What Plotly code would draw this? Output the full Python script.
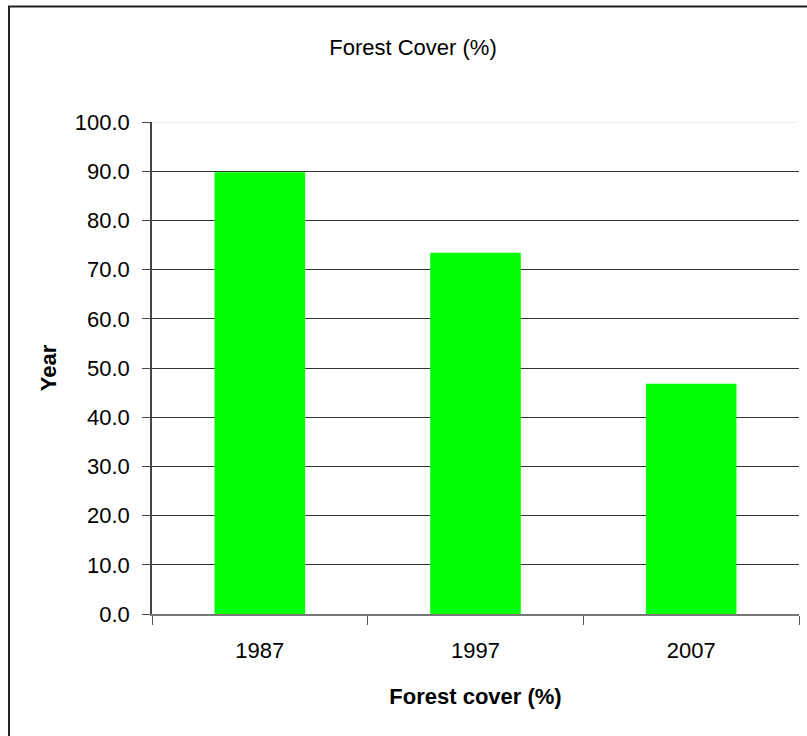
import plotly.graph_objects as go

years = ["1987", "1997", "2007"]
forest_cover = [89.8, 73.4, 46.8]
y_ticks = [0, 10, 20, 30, 40, 50, 60, 70, 80, 90, 100]
y_tick_labels = [f"{v:.1f}" for v in y_ticks]

FONT = "Liberation Sans, Arial, sans-serif"

fig = go.Figure()
fig.add_trace(go.Bar(
    x=years,
    y=forest_cover,
    marker=dict(color="#00ff00", line=dict(width=0)),
    width=0.42,
    showlegend=False,
))

fig.update_layout(
    width=807,
    height=736,
    margin=dict(l=152, r=8, t=122, b=122),
    paper_bgcolor="white",
    plot_bgcolor="white",
    font=dict(family=FONT, size=22, color="#000"),
    title=dict(
        text="Forest Cover (%)",
        x=413 / 807, xanchor="center", xref="container",
        y=1 - 47 / 736, yanchor="middle", yref="container",
        font=dict(size=22),
    ),
    xaxis=dict(
        type="category",
        showline=True, linecolor="#777", linewidth=1.5,
        ticks="outside", tickson="boundaries", ticklen=9, tickcolor="#555",
        ticklabelstandoff=16,
        showgrid=False,
        title=dict(text="<b>Forest cover (%)</b>", standoff=26, font=dict(size=22)),
    ),
    yaxis=dict(
        range=[0, 100],
        tickvals=y_ticks, ticktext=y_tick_labels,
        showline=True, linecolor="#444", linewidth=1.5,
        ticks="outside", ticklen=8, tickcolor="#444",
        ticklabelstandoff=8,
        showgrid=True, gridcolor="#333", gridwidth=1,
        zeroline=False,
        title=dict(text="<b>Year</b>", standoff=12, font=dict(size=22)),
    ),
    shapes=[
        # faint top gridline at 100
        dict(type="line", xref="paper", yref="y", x0=0.002, x1=0.998, y0=100, y1=100,
             line=dict(color="#e6e6e6", width=1.5), layer="above"),
        # outer chart border (right and bottom edges fall outside the image)
        dict(type="rect", xref="paper", yref="paper",
             x0=(9 - 152) / 647, x1=(820 - 152) / 647,
             y0=(614 - 750) / 492, y1=(614 - 6.5) / 492,
             line=dict(color="#222", width=2), layer="above"),
    ],
)

# drop the browser's default 8px body margin so the figure sits at the page corner
fig.write_html("out.html", config={"displayModeBar": False},
               post_script="document.body.style.margin='0';")
